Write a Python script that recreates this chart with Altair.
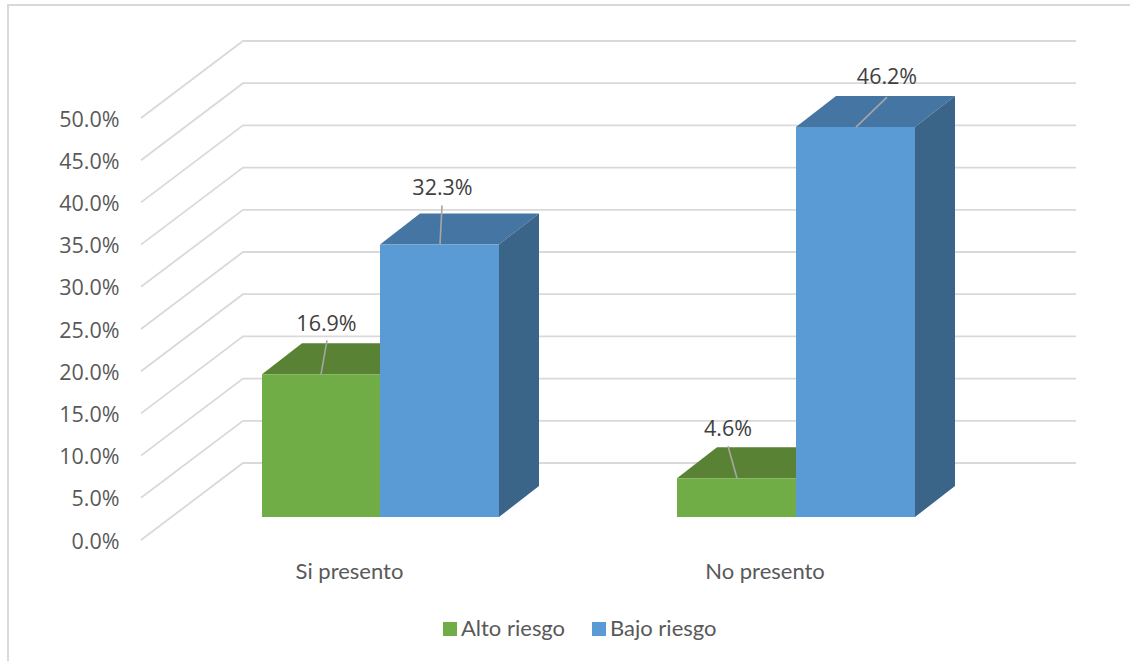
import altair as alt
import pandas as pd

# Series values, in percent
categories = ["Si presento", "No presento"]
series_names = ["Alto riesgo", "Bajo riesgo"]
alto_riesgo = [16.9, 4.6]
bajo_riesgo = [32.3, 46.2]
tick_values = [0, 5, 10, 15, 20, 25, 30, 35, 40, 45, 50]

# Layout of the oblique drawing, in pixels
LEFT, TOP_MARGIN, PLOT_W, PLOT_H = 141, 0, 989, 540
PX_PER_UNIT = 8.44
WALL_DX, WALL_LIFT = 102, 77
WALL_RIGHT = 1076
BAR_DX, BAR_LIFT, BASE_LIFT = 40, 31, 23
BAR_W = 119
GROUP_LEFT = [262, 677]
CAT_CENTER = [349.5, 765]
CAT_Y = 572

# Label placement per bar: label x, leader foot x, leader head x, label gap, leader length
LABEL_SPOTS = {
    ("Alto riesgo", 0): (326.5, 321, 327, 51, 34),
    ("Bajo riesgo", 0): (442.5, 440, 442, 57, 39),
    ("Alto riesgo", 1): (728, 737, 728, 50, 32),
    ("Bajo riesgo", 1): (887, 856, 887, 51, 30),
}


def units(px):
    return px / PX_PER_UNIT


def row_from_y(y_px):
    return (PLOT_H - y_px) / PX_PER_UNIT


base = units(BASE_LIFT)
depth = units(BAR_LIFT)

bars = []
faces = []
labels = []
leaders = []
shades = {
    "Alto riesgo": ("#598234", "#4f7530"),
    "Bajo riesgo": ("#4576a3", "#3a6488"),
}
for s_idx, (name, vals) in enumerate(zip(series_names, [alto_riesgo, bajo_riesgo])):
    for g, v in enumerate(vals):
        x0 = GROUP_LEFT[g] + s_idx * BAR_W - (s_idx and g == 0 and 1 or 0)
        x1 = x0 + BAR_W
        top = v + base
        bars.append(dict(series=name, x0=x0, x1=x1, y0=base, y1=top))
        top_id = f"{name}-{g}-top"
        side_id = f"{name}-{g}-side"
        top_fill, side_fill = shades[name]
        for xp, lo, hi in [
            (x0, top, top),
            (x0 + BAR_DX, top, top + depth),
            (x1, top, top + depth),
            (x1 + BAR_DX, top + depth, top + depth),
        ]:
            faces.append(dict(series=name, face=top_id, x=xp, lo=lo, hi=hi, fill=top_fill))
        for xp, lo, hi in [
            (x1, base, top),
            (x1 + BAR_DX, base + depth, top + depth),
        ]:
            faces.append(dict(series=name, face=side_id, x=xp, lo=lo, hi=hi, fill=side_fill))
        lx, foot, head, gap, length = LABEL_SPOTS[(name, g)]
        labels.append(dict(x=lx, y=top + units(gap), text=f"{v:.1f}%"))
        leaders.append(dict(id=f"{name}-{g}", x=foot, y=top))
        leaders.append(dict(id=f"{name}-{g}", x=head, y=top + units(length)))

grid = []
for t in tick_values:
    grid.append(dict(tick=t, x=LEFT, y=t))
    grid.append(dict(tick=t, x=LEFT + WALL_DX, y=t + units(WALL_LIFT)))
    grid.append(dict(tick=t, x=WALL_RIGHT, y=t + units(WALL_LIFT)))

frame = [
    dict(x=8, y=row_from_y(661)),
    dict(x=8, y=row_from_y(5)),
    dict(x=1130, y=row_from_y(5)),
]

cats = [dict(x=cx, y=row_from_y(CAT_Y), text=c) for cx, c in zip(CAT_CENTER, categories)]

bars_df = pd.DataFrame(bars)
faces_df = pd.DataFrame(faces)

x_scale = alt.Scale(domain=[LEFT, LEFT + PLOT_W], range=[0, PLOT_W])
y_scale = alt.Scale(domain=[0, PLOT_H / PX_PER_UNIT], range=[PLOT_H, 0])
y_axis = alt.Axis(
    values=tick_values,
    labelExpr="format(datum.value, '.1f') + '%'",
    domain=False,
    ticks=False,
    grid=False,
    title=None,
    labelPadding=22,
    labelOffset=2,
    labelFont="Open Sans",
    labelFontSize=21.5,
    labelColor="#595959",
)
X = alt.X("x:Q", scale=x_scale, axis=None)
Y = alt.Y("y:Q", scale=y_scale, axis=y_axis)

frame_layer = (
    alt.Chart(pd.DataFrame(frame))
    .mark_line(color="#d9d9d9", strokeWidth=2, clip=False)
    .encode(x=X, y=Y, order=alt.Order("y:Q", sort="ascending"))
)

grid_layer = (
    alt.Chart(pd.DataFrame(grid))
    .mark_line(color="#d9d9d9", strokeWidth=1.8)
    .encode(x=X, y=Y, detail="tick:N")
)


def faces_layer(name):
    return (
        alt.Chart(faces_df[faces_df.series == name])
        .mark_area(opacity=1)
        .encode(
            x=X,
            y=alt.Y("lo:Q", scale=y_scale, axis=y_axis),
            y2="hi:Q",
            fill=alt.Fill("fill:N", scale=None),
            detail="face:N",
        )
    )


def front_layer(name):
    return (
        alt.Chart(bars_df[bars_df.series == name])
        .mark_rect()
        .encode(
            x=alt.X("x0:Q", scale=x_scale, axis=None),
            x2="x1:Q",
            y=alt.Y("y0:Q", scale=y_scale, axis=y_axis),
            y2="y1:Q",
            color=alt.Color(
                "series:N",
                scale=alt.Scale(domain=series_names, range=["#70ad47", "#5b9bd5"]),
                legend=alt.Legend(
                    title=None,
                    orient="none",
                    legendX=298,
                    legendY=618,
                    direction="horizontal",
                    columns=2,
                    symbolType="square",
                    symbolSize=196,
                    symbolStrokeWidth=0,
                    labelFont="Lato",
                    labelFontSize=22,
                    labelColor="#595959",
                    labelOffset=0,
                    columnPadding=22,
                ),
            ),
        )
    )


leader_layer = (
    alt.Chart(pd.DataFrame(leaders))
    .mark_line(color="#a6a6a6", strokeWidth=1.6)
    .encode(x=X, y=Y, detail="id:N", order=alt.Order("y:Q"))
)

label_layer = (
    alt.Chart(pd.DataFrame(labels))
    .mark_text(font="Open Sans", fontSize=21.5, color="#404040", baseline="middle", align="center", dy=2)
    .encode(x=X, y=Y, text="text:N")
)

cat_layer = (
    alt.Chart(pd.DataFrame(cats))
    .mark_text(font="Lato", fontSize=22, color="#595959", baseline="middle", align="center")
    .encode(x=X, y=Y, text="text:N")
)

chart = (
    alt.layer(
        frame_layer,
        grid_layer,
        faces_layer("Alto riesgo"),
        front_layer("Alto riesgo"),
        faces_layer("Bajo riesgo"),
        front_layer("Bajo riesgo"),
        leader_layer,
        label_layer,
        cat_layer,
    )
    .properties(
        width=PLOT_W,
        height=PLOT_H,
        autosize=alt.AutoSizeParams(type="none", contains="content"),
        padding={"left": LEFT, "top": TOP_MARGIN, "right": 0, "bottom": 121},
        background="white",
    )
    .configure_view(stroke=None)
)

chart.save("out.html", embed_options={"renderer": "svg", "actions": False})
